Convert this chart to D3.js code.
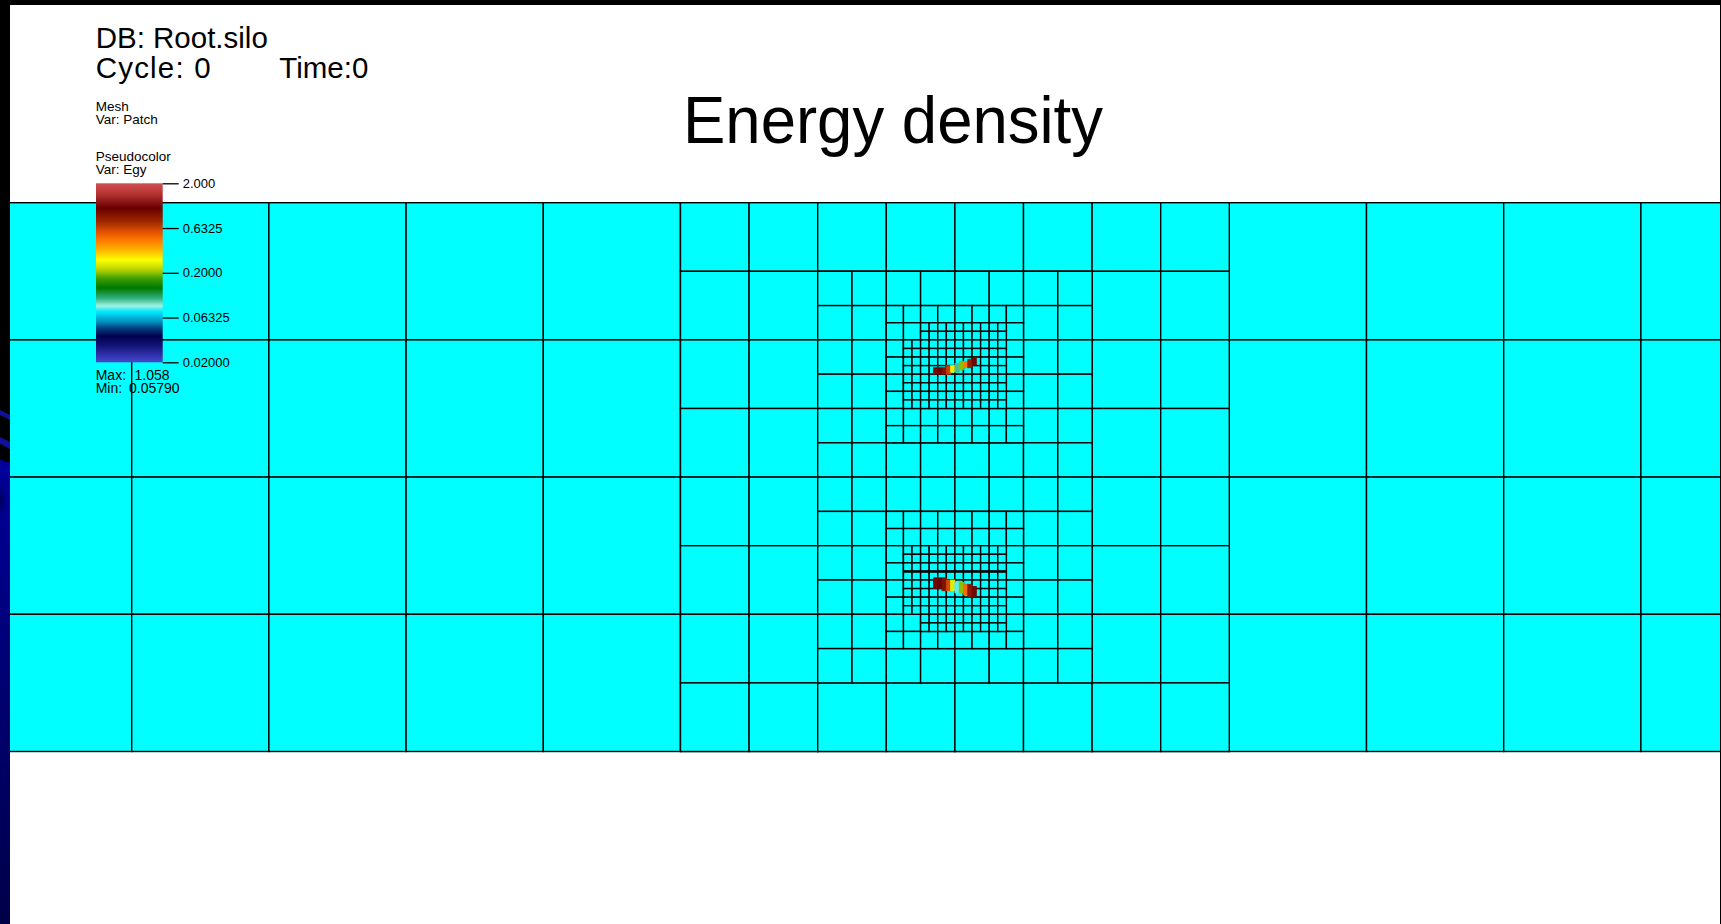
<!DOCTYPE html>
<html><head><meta charset="utf-8">
<script src="https://cdn.jsdelivr.net/npm/d3@7"></script>
<style>html,body{margin:0;padding:0;background:#fff;overflow:hidden}</style>
</head><body><svg id="c" width="1721" height="924" xmlns="http://www.w3.org/2000/svg"></svg>
<script>
// ---------------- data ----------------
const meshXDomain = [0, 14];
const meshYDomain = [0, 4];
const cellSizes = [1, 0.5, 0.25, 0.125, 0.0625];
// AMR patches per level: [x0, y0, x1, y1] in mesh units
const level0Patches = [[0, 0, 14, 4]];
const level1Patches = [[5, 0, 9, 4]];
const level2Patches = [[6, 0.5, 8, 3.5]];
const level3Patches = [[6.5, 0.75, 7.5, 1.75], [6.5, 2.25, 7.5, 3.25]];
const level4Patches = [[6.75, 0.875, 7.375, 1.0], [6.625, 1.0, 7.375, 1.5],
                       [6.625, 2.5, 7.375, 3.0], [6.75, 3.0, 7.375, 3.125]];
const patchSeams = [[6.625, 7.375, 2.6875]]; // [x0, x1, y]

// Energy-density blobs: column index (1/32 units), top/bottom row (1/64 units), value
const upperBlobCols   = [219, 220, 221, 222, 223, 224, 225, 226, 227, 228];
const upperBlobTop    = [77, 77, 77, 76, 76, 75, 74, 74, 73, 72];
const upperBlobBottom = [80, 80, 80, 80, 79, 79, 78, 77, 77, 76];
const upperBlobValues = [0.95, 1.05, 0.9, 0.65, 0.3, 0.1, 0.2, 0.45, 0.8, 1.0];
const lowerBlobCols   = [219, 220, 221, 222, 223, 224, 225, 226, 227, 228];
const lowerBlobTop    = [175, 175, 175, 176, 176, 177, 177, 178, 178, 179];
const lowerBlobBottom = [180, 180, 181, 181, 181, 182, 182, 183, 184, 184];
const lowerBlobValues = [1.0, 1.058, 0.9, 0.6, 0.25, 0.08, 0.2, 0.5, 0.85, 1.0];

// Legend
const tickValues = [0.02, 0.06325, 0.2, 0.6325, 2.0];
const tickLabels = ["0.02000", "0.06325", "0.2000", "0.6325", "2.000"];
const colorStopsT = [0, 0.052, 0.1, 0.147, 0.19, 0.227, 0.283, 0.315, 0.358, 0.415, 0.47, 0.516, 0.571, 0.627, 0.683, 0.73, 0.785, 0.862, 0.935, 1.0];
const colorStops  = ["#4848d0", "#2a2aa0", "#101070", "#000050", "#004080", "#0090c0", "#00e8ff", "#a0f4e4", "#30b080", "#007800", "#40a000", "#b4d200", "#ffff00", "#ffb400", "#ff7800", "#e05000", "#a02800", "#680000", "#b03030", "#d45050"];
const headerLines = ["DB: Root.silo", "Cycle: 0"];
const timeLabel = "Time:0";
const plotInfo = ["Mesh", "Var: Patch", "Pseudocolor", "Var: Egy"];
const maxLabel = ["Max:", "1.058"];
const minLabel = ["Min:", "0.05790"];
const titleText = "Energy density";

// ---------------- drawing ----------------
const svg = d3.select("#c");
svg.append("rect").attr("width", 1721).attr("height", 924).attr("fill", "#fff");

const x = d3.scaleLinear().domain(meshXDomain).range([-5.5, 1915.3]);
const y = d3.scaleLinear().domain(meshYDomain).range([202.7, 751.5]);

const defs = svg.append("defs");
defs.append("clipPath").attr("id", "view").append("rect")
  .attr("x", 0).attr("y", 0).attr("width", 1720).attr("height", 924);

const mesh = svg.append("g").attr("clip-path", "url(#view)");
const levels = [level0Patches, level1Patches, level2Patches, level3Patches, level4Patches];
levels.forEach((patches, li) => {
  const h = cellSizes[li];
  const cells = [];
  patches.forEach(p => {
    const nx = Math.round((p[2] - p[0]) / h), ny = Math.round((p[3] - p[1]) / h);
    d3.range(nx).forEach(i => d3.range(ny).forEach(j => {
      cells.push([p[0] + i * h, p[1] + j * h, p[0] + (i + 1) * h, p[1] + (j + 1) * h]);
    }));
  });
  mesh.append("g").selectAll("rect").data(cells).join("rect")
    .attr("x", d => x(d[0])).attr("y", d => y(d[1]))
    .attr("width", d => x(d[2]) - x(d[0])).attr("height", d => y(d[3]) - y(d[1]))
    .attr("fill", "#00ffff").attr("stroke", "#000").attr("stroke-width", 1.4);
});
mesh.append("g").selectAll("line").data(patchSeams).join("line")
  .attr("x1", d => x(d[0])).attr("x2", d => x(d[1]))
  .attr("y1", d => y(d[2])).attr("y2", d => y(d[2]))
  .attr("stroke", "#000").attr("stroke-width", 2.6);

// colour scale shared by blobs and colour bar
const logT = d3.scaleLog().domain([0.02, 2]).range([0, 1]).clamp(true);
const colorT = d3.scaleLinear().domain(colorStopsT).range(colorStops);
const color = v => colorT(logT(v));

function drawBlob(cols, tops, bottoms, vals) {
  const data = cols.map((c, i) => ({c, t: tops[i], b: bottoms[i], v: vals[i]}));
  mesh.append("g").selectAll("rect").data(data).join("rect")
    .attr("x", d => x(d.c / 32)).attr("y", d => y(d.t / 64))
    .attr("width", d => x((d.c + 1) / 32) - x(d.c / 32))
    .attr("height", d => y(d.b / 64) - y(d.t / 64))
    .attr("fill", d => color(d.v)).attr("stroke", d => color(d.v)).attr("stroke-width", 0.8);
}
drawBlob(upperBlobCols, upperBlobTop, upperBlobBottom, upperBlobValues);
drawBlob(lowerBlobCols, lowerBlobTop, lowerBlobBottom, lowerBlobValues);

// ---------------- slide frame ----------------
svg.append("rect").attr("x", 0).attr("y", 0).attr("width", 1721).attr("height", 5).attr("fill", "#000");
svg.append("rect").attr("x", 1720).attr("y", 0).attr("width", 1).attr("height", 924).attr("fill", "#000");
const lg = defs.append("linearGradient").attr("id", "sideBlue").attr("x1", 0).attr("y1", 0).attr("x2", 0).attr("y2", 1);
lg.append("stop").attr("offset", "0%").attr("stop-color", "#00009a");
lg.append("stop").attr("offset", "100%").attr("stop-color", "#000048");
const rg = defs.append("radialGradient").attr("id", "sideDark");
rg.append("stop").attr("offset", "0%").attr("stop-color", "#000040");
rg.append("stop").attr("offset", "100%").attr("stop-color", "#00009a").attr("stop-opacity", 0);
svg.append("rect").attr("x", 0).attr("y", 0).attr("width", 10).attr("height", 924).attr("fill", "#000");
svg.append("rect").attr("x", 0).attr("y", 462).attr("width", 10).attr("height", 462).attr("fill", "url(#sideBlue)");
svg.append("path").attr("d", "M0,459 Q6,462 10,468 L10,475 L0,475 Z").attr("fill", "#00009a");
svg.append("ellipse").attr("cx", -2).attr("cy", 500).attr("rx", 12).attr("ry", 26).attr("fill", "url(#sideDark)");
svg.append("path").attr("d", "M0,410 L10,415 L10,420 L0,415 Z").attr("fill", "#10109a");
svg.append("path").attr("d", "M0,437 L10,442 L10,449 L0,444 Z").attr("fill", "#10109a");

// ---------------- annotations ----------------
const txt = svg.append("g").attr("font-family", "'Liberation Sans', Arial, sans-serif").attr("fill", "#000");
txt.append("text").attr("x", 95.7).attr("y", 48.3).attr("font-size", 29.5).text(headerLines[0]);
txt.append("text").attr("x", 95.7).attr("y", 78.3).attr("font-size", 29.5)
  .attr("textLength", 115).attr("lengthAdjust", "spacing").text(headerLines[1]);
txt.append("text").attr("x", 279.3).attr("y", 78.3).attr("font-size", 29.5).text(timeLabel);
const infoY = [111, 124, 161, 173.5];
plotInfo.forEach((t, i) => txt.append("text").attr("x", 95.7).attr("y", infoY[i]).attr("font-size", 13.5).text(t));
txt.append("text").attr("x", 95.7).attr("y", 380).attr("font-size", 14).text(maxLabel[0]);
txt.append("text").attr("x", 134.5).attr("y", 380).attr("font-size", 14).text(maxLabel[1]);
txt.append("text").attr("x", 95.7).attr("y", 392.7).attr("font-size", 14).text(minLabel[0]);
txt.append("text").attr("x", 129).attr("y", 392.7).attr("font-size", 14).text(minLabel[1]);
txt.append("text").attr("x", 893).attr("y", 142.7).attr("font-size", 66).attr("text-anchor", "middle")
  .attr("textLength", 420).attr("lengthAdjust", "spacingAndGlyphs").text(titleText);

// colour bar
const cbY = d3.scaleLog().domain([0.02, 2]).range([362.3, 183.3]);
const cg = defs.append("linearGradient").attr("id", "cbar").attr("x1", 0).attr("y1", 1).attr("x2", 0).attr("y2", 0);
colorStopsT.forEach((t, i) => cg.append("stop").attr("offset", t).attr("stop-color", colorStops[i]));
svg.append("rect").attr("x", 96).attr("y", cbY(2)).attr("width", 66.7).attr("height", cbY(0.02) - cbY(2)).attr("fill", "url(#cbar)");
const axis = d3.axisRight(cbY).tickValues(tickValues).tickFormat((d, i) => tickLabels[i]).tickSize(16).tickPadding(4);
const ag = svg.append("g").attr("transform", "translate(162.7,0)").call(axis);
ag.select(".domain").remove();
ag.selectAll("line").attr("stroke", "#000").attr("stroke-width", 1.3);
ag.selectAll("text").attr("font-family", "'Liberation Sans', Arial, sans-serif").attr("font-size", 13).attr("fill", "#000");
</script></body></html>
